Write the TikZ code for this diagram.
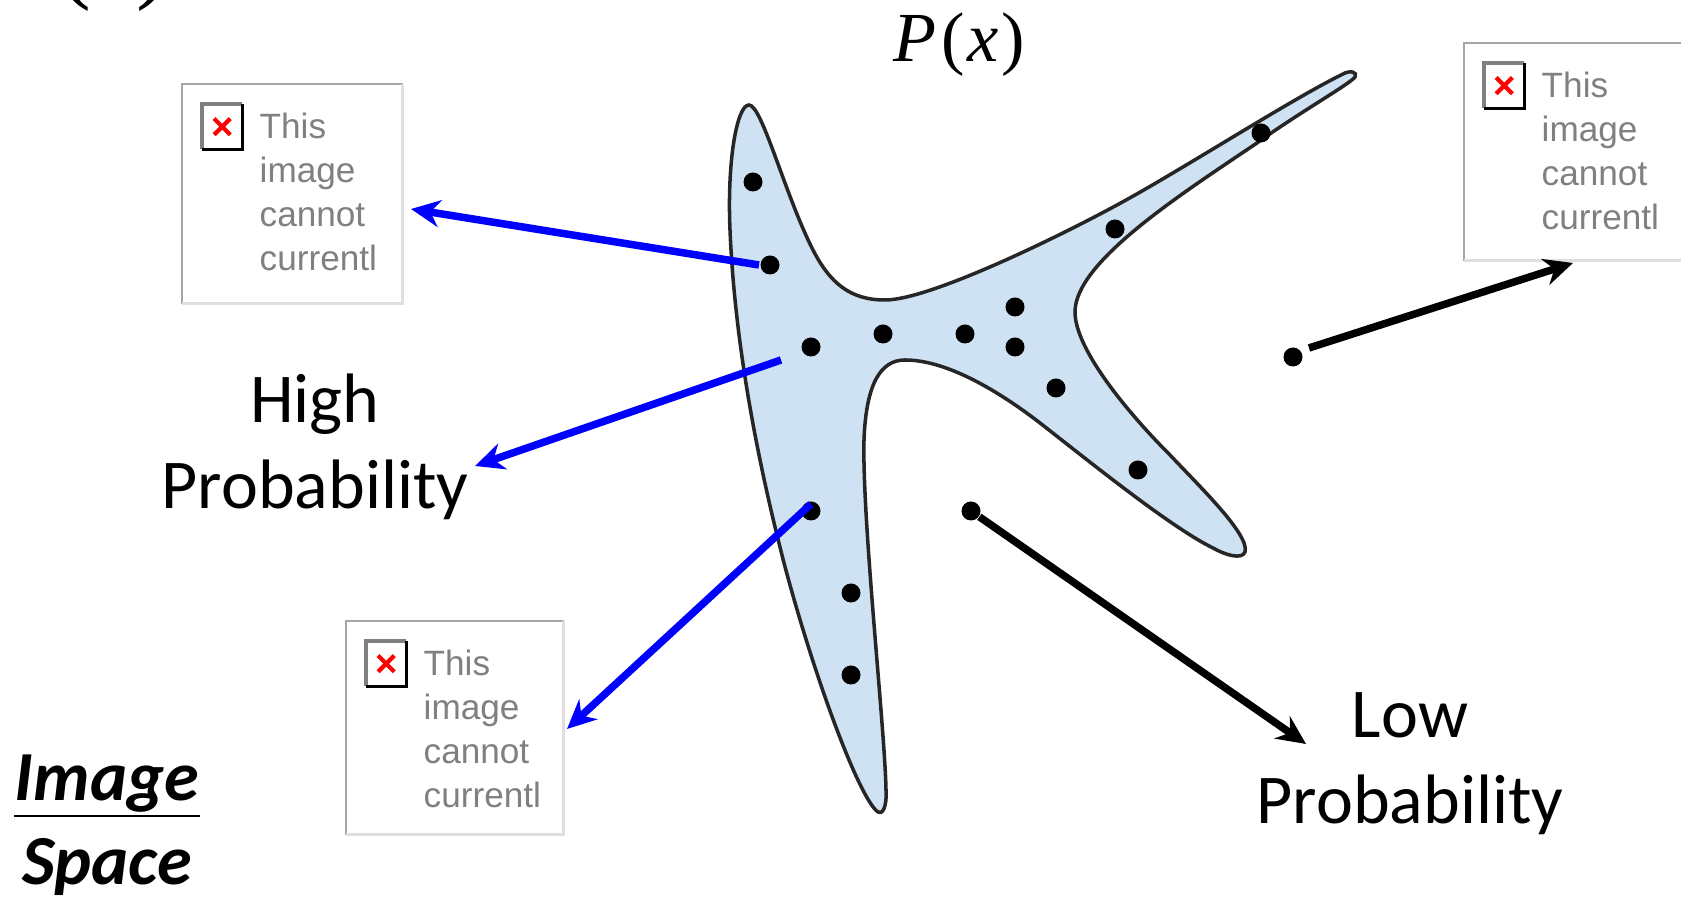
\documentclass[tikz,border=0pt]{standalone}
\usepackage{fontspec}
\setmainfont{Carlito}
\newfontfamily\phfont{Liberation Sans}
\newfontfamily\pxfont{Liberation Serif}
\usepackage{xcolor}
\usetikzlibrary{shapes.misc, arrows.meta, positioning}
\definecolor{blobfill}{HTML}{CFE2F3}

\begin{document}
\begin{tikzpicture}[
    x=0.01cm, y=-0.01cm,
    dot/.style={circle, fill=black, inner sep=0pt, minimum size=1.9mm},
    bigtxt/.style={font=\fontsize{19.9}{24.5}\selectfont, align=center, inner sep=0pt},
    spacetxt/.style={font=\fontsize{20}{24}\selectfont\bfseries\itshape, inner sep=0pt, anchor=base},
    phbox/.style={rectangle, fill=white, inner sep=0pt, minimum width=21.9mm, minimum height=21.8mm, anchor=north west},
    phicon/.style={rectangle, fill=white, inner sep=0pt, minimum width=3.9mm, minimum height=4.4mm, anchor=north west},
    phcross/.style={cross out, draw=red, line width=1.2pt, inner sep=0pt, minimum size=1.2mm},
    phtext/.style={font=\phfont\fontsize{10}{12.5}\selectfont, text=gray, align=left, inner sep=0pt, anchor=north west},
    edgedark/.style={gray!70, line width=0.7pt},
    edgelight/.style={gray!25, line width=0.7pt},
    icondark/.style={gray, line width=0.9pt},
    iconblack/.style={black, line width=1pt},
    bluearrow/.style={-{Stealth[length=2.9mm, width=2.7mm]}, blue, line width=0.75mm},
    blackarrow/.style={-{Stealth[length=2.9mm, width=2.7mm]}, black, line width=0.75mm}
]
\useasboundingbox (0,0) rectangle (1681,898);
\clip (0,0) rectangle (1681,898);

% ── Density blob ──
\draw[fill=blobfill, draw=black!85, line width=1pt]
    (749,105) .. controls (762,105) and (785,195) .. (813,250)
    .. controls (830,283) and (850,300) .. (885,300)
    .. controls (930,300) and (1060,236) .. (1117,205)
    .. controls (1180,171) and (1290,100) .. (1343,74)
    .. controls (1350,70) and (1358,72) .. (1355,77)
    .. controls (1350,84) and (1300,112) .. (1257,143)
    .. controls (1180,195) and (1075,262) .. (1075,312)
    .. controls (1075,350) and (1130,415) .. (1170,455)
    .. controls (1200,487) and (1250,535) .. (1245,552)
    .. controls (1242,560) and (1225,555) .. (1213,548)
    .. controls (1170,527) and (1085,458) .. (1040,423)
    .. controls (1005,396) and (950,360) .. (905,360)
    .. controls (880,360) and (866,385) .. (864,440)
    .. controls (862,520) and (885,730) .. (886,790)
    .. controls (887,808) and (882,815) .. (878,812)
    .. controls (860,800) and (815,680) .. (784,563)
    .. controls (760,470) and (735,350) .. (730,230)
    .. controls (727,160) and (737,105) .. (749,105) -- cycle;

% ── Samples inside ──
\node[dot] (s1)  at (753,182) {};
\node[dot] (s2)  at (770,265) {};
\node[dot] (s3)  at (811,347) {};
\node[dot] (s4)  at (883,334) {};
\node[dot] (s5)  at (965,334) {};
\node[dot] (s6)  at (1015,307) {};
\node[dot] (s7)  at (1015,347) {};
\node[dot] (s8)  at (1056,388) {};
\node[dot] (s9)  at (1138,470) {};
\node[dot] (s10) at (1115,229) {};
\node[dot] (s11) at (1261,133) {};
\node[dot] (s12) at (811,511) {};
\node[dot] (s13) at (851,593) {};
\node[dot] (s14) at (851,675) {};

% ── Samples outside ──
\node[dot] (out1) at (1293,357) {};
\node[dot] (out2) at (971,511) {};

% ── Labels ──
\node[font=\pxfont\fontsize{20}{24}\selectfont, inner sep=0pt, anchor=base] (px) at (959,62)
    {{\itshape P}\hspace{1.5pt}(\hspace{0.8pt}{\itshape x}\hspace{0.8pt})};
\node[font=\pxfont\fontsize{28}{32}\selectfont, inner sep=0pt, anchor=base] (cutpx) at (114,-9) {(\hspace{13pt})};
\node[bigtxt] (high) at (315,446.5) {High\\Probability};
\node[bigtxt] (low)  at (1410,764) {Low\\Probability};
\node[spacetxt] (imgtxt) at (107,801) {Image};
\node[spacetxt] (spctxt) at (107,885) {Space};
\draw[line width=0.7pt] ([yshift=-1.5mm]imgtxt.base west) -- ([yshift=-1.5mm]imgtxt.base east);

% ── Placeholder 1 ──
\node[phbox] (ph1) at (182,84) {};
\draw[edgedark]  (ph1.south west) |- (ph1.north east);
\draw[edgelight] (ph1.north east) |- (ph1.south west);
\node[phicon] (ic1) at (202,104) {};
\draw[icondark]  (ic1.south west) |- (ic1.north east);
\draw[iconblack] (ic1.north east) |- (ic1.south west);
\node[phcross] (x1) at (ic1.center) {};
\node[phtext] (t1) at (259,112) {This\\image\\cannot\\currentl};

% ── Placeholder 2 ──
\node[phbox, minimum height=21.6mm] (ph2) at (1464,43) {};
\draw[edgedark]  (ph2.south west) |- (ph2.north east);
\draw[edgelight] (ph2.north east) |- (ph2.south west);
\node[phicon] (ic2) at (1484,63) {};
\draw[icondark]  (ic2.south west) |- (ic2.north east);
\draw[iconblack] (ic2.north east) |- (ic2.south west);
\node[phcross] (x2) at (ic2.center) {};
\node[phtext] (t2) at (1541,71) {This\\image\\cannot\\currentl};

% ── Placeholder 3 ──
\node[phbox, minimum width=21.6mm, minimum height=21.2mm] (ph3) at (346,621) {};
\draw[edgedark]  (ph3.south west) |- (ph3.north east);
\draw[edgelight] (ph3.north east) |- (ph3.south west);
\node[phicon] (ic3) at (366,641) {};
\draw[icondark]  (ic3.south west) |- (ic3.north east);
\draw[iconblack] (ic3.north east) |- (ic3.south west);
\node[phcross] (x3) at (ic3.center) {};
\node[phtext] (t3) at (423,649) {This\\image\\cannot\\currentl};

% ── Arrows ──
\coordinate (b1a) at (759,265);
\coordinate (b1b) at (411,209);
\coordinate (b2a) at (781,360);
\coordinate (b2b) at (475,466);
\coordinate (b3a) at (811,504);
\coordinate (b3b) at (567,729);
\coordinate (k1a) at (1309,348);
\coordinate (k1b) at (1573,263);
\coordinate (k2b) at (1306,744);

\draw[bluearrow] (b1a) -- (b1b);
\draw[bluearrow] (b2a) -- (b2b);
\draw[bluearrow] (b3a) -- (b3b);
\draw[blackarrow] (k1a) -- (k1b);
\draw[blackarrow] (out2) -- (k2b);

\end{tikzpicture}
\end{document}
